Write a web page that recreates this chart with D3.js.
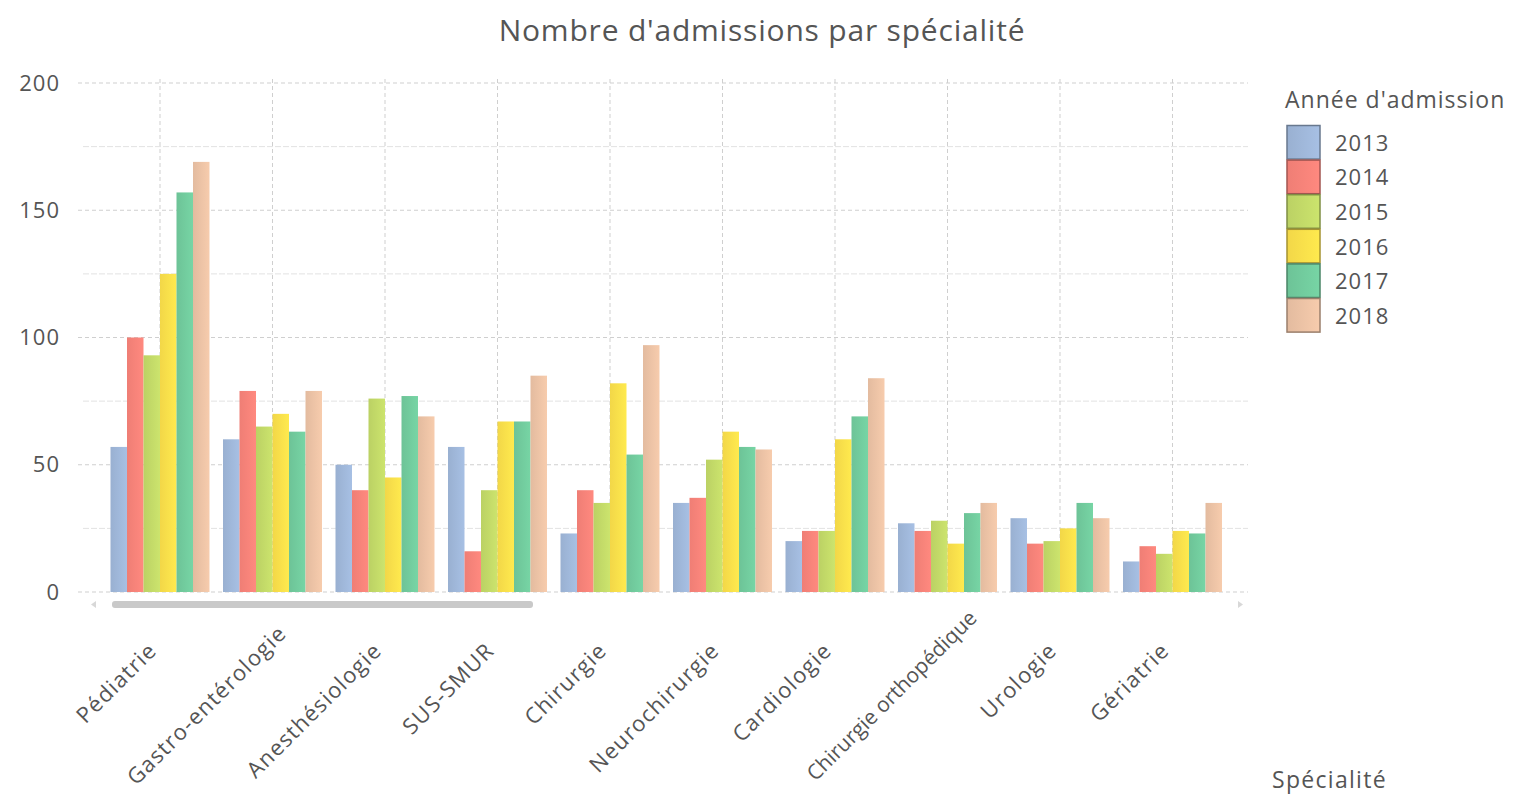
<!DOCTYPE html>
<html>
<head>
<meta charset="utf-8">
<script src="https://cdn.jsdelivr.net/npm/d3@7"></script>
<style>
  html, body { margin: 0; padding: 0; background: #fff; }
  svg { display: block; }
  text { font-family: "Open Sans", "DejaVu Sans", sans-serif; fill: #555; }
</style>
</head>
<body>
<svg id="chart" width="1516" height="795"></svg>
<script>
// ---- data ----
const categories = ["Pédiatrie", "Gastro-entérologie", "Anesthésiologie", "SUS-SMUR", "Chirurgie",
  "Neurochirurgie", "Cardiologie", "Chirurgie orthopédique", "Urologie", "Gériatrie"];
const years = ["2013", "2014", "2015", "2016", "2017", "2018"];
const v2013 = [57, 60, 50, 57, 23, 35, 20, 27, 29, 12];
const v2014 = [100, 79, 40, 16, 40, 37, 24, 24, 19, 18];
const v2015 = [93, 65, 76, 40, 35, 52, 24, 28, 20, 15];
const v2016 = [125, 70, 45, 67, 82, 63, 60, 19, 25, 24];
const v2017 = [157, 63, 77, 67, 54, 57, 69, 31, 35, 23];
const v2018 = [169, 79, 69, 85, 97, 56, 84, 35, 29, 35];
const seriesValues = [v2013, v2014, v2015, v2016, v2017, v2018];
const yTicks = [0, 50, 100, 150, 200];
const yMinor = [25, 75, 125, 175];
const colors = ["#a0b8da", "#f9837a", "#c3da68", "#fde04b", "#72cc9e", "#edc3a6"];

const title = "Nombre d'admissions par spécialité";
const legendTitle = "Année d'admission";
const xTitle = "Spécialité";

// ---- layout ----
const svg = d3.select("#chart");
const plotLeft = 78, plotRight = 1248, plotTop = 83, plotBottom = 592;

const x0 = d3.scaleBand().domain(categories).range([103.75, 1228.75]).paddingInner(0.12).paddingOuter(0.06);
const x1 = d3.scaleBand().domain(years).range([0, x0.bandwidth()]);
const y = d3.scaleLinear().domain([0, 200]).range([plotBottom, plotTop]);

// gradients
const defs = svg.append("defs");
colors.forEach((c, i) => {
  const g = defs.append("linearGradient").attr("id", "g" + i).attr("x1", "0%").attr("x2", "100%");
  g.append("stop").attr("offset", "0%").attr("stop-color", d3.color(c).darker(0.12));
  g.append("stop").attr("offset", "100%").attr("stop-color", d3.color(c).brighter(0.12));
});

// title
svg.append("text").attr("x", 762).attr("y", 41).attr("text-anchor", "middle")
  .style("font-size", "30px").style("letter-spacing", "0.8px").style("fill", "#555").text(title);

// grid
const grid = svg.append("g");
grid.selectAll("line.minor").data(yMinor).join("line")
  .attr("x1", plotLeft + 5).attr("x2", plotRight).attr("y1", d => y(d)).attr("y2", d => y(d))
  .attr("stroke", "#e2e2e2").attr("stroke-width", 1).attr("stroke-dasharray", "6 2");
grid.selectAll("line.major").data(yTicks).join("line")
  .attr("x1", plotLeft).attr("x2", plotRight).attr("y1", d => y(d)).attr("y2", d => y(d))
  .attr("stroke", "#cfcfcf").attr("stroke-width", 1).attr("stroke-dasharray", "4 3");
grid.selectAll("line.v").data(categories).join("line")
  .attr("x1", d => x0(d) + x0.bandwidth() / 2).attr("x2", d => x0(d) + x0.bandwidth() / 2)
  .attr("y1", plotTop - 4).attr("y2", plotBottom)
  .attr("stroke", "#cfcfcf").attr("stroke-width", 1).attr("stroke-dasharray", "4 3");

// y axis labels
const yAxis = d3.axisLeft(y).tickValues(yTicks).tickSize(0).tickPadding(0);
const yg = svg.append("g").attr("transform", "translate(60,0)").call(yAxis);
yg.select(".domain").remove();
yg.selectAll("text").style("font-size", "22px").style("letter-spacing", "1px")
  .style("fill", "#555").style("font-family", null);

// bars
const groups = svg.append("g").selectAll("g").data(categories).join("g")
  .attr("transform", d => `translate(${x0(d)},0)`);
groups.selectAll("rect").data((d, ci) => years.map((yr, si) => ({ yr, si, v: seriesValues[si][ci] })))
  .join("rect")
  .attr("x", d => x1(d.yr)).attr("width", x1.bandwidth())
  .attr("y", d => y(d.v)).attr("height", d => y(0) - y(d.v))
  .attr("fill", d => `url(#g${d.si})`);

// scrollbar
svg.append("rect").attr("x", 112).attr("y", 601).attr("width", 421).attr("height", 7)
  .attr("rx", 3).attr("fill", "#c9c9c9");
svg.append("path").attr("d", "M96,601 L91,604.5 L96,608 Z").attr("fill", "#d8d8d8");
svg.append("path").attr("d", "M1238,601 L1243,604.5 L1238,608 Z").attr("fill", "#d8d8d8");

// x labels
const xAxis = d3.axisBottom(x0).tickSize(0).tickPadding(0);
const xa = svg.append("g").call(xAxis);
xa.select(".domain").remove();
xa.selectAll(".tick").attr("transform", null);
xa.selectAll(".tick text").each(function(d) {
  const t = d3.select(this);
  t.style("font-size", "22px").style("letter-spacing", "1.2px").style("fill", "#555").style("font-family", null)
    .attr("text-anchor", "end").attr("dy", null).attr("y", null).attr("x", null);
  const baseY = 652, maxBottom = 782, minEndY = 614;
  let L = this.getComputedTextLength();
  let shift = Math.max(0, baseY + L * 0.7071 - maxBottom) * 0.8;
  if (baseY - shift < minEndY) {
    // too long to fit between the axis and the bottom: tighten the spacing
    t.style("letter-spacing", "0px").style("font-size", "21px");
    L = this.getComputedTextLength();
    shift = Math.min(baseY - minEndY, Math.max(0, baseY + L * 0.7071 - maxBottom));
  }
  const cx = x0(d) + x0.bandwidth() / 2 - 2;
  t.attr("transform", `translate(${cx + shift},${baseY - shift}) rotate(-45)`);
});

// x title
svg.append("text").attr("x", 1272).attr("y", 788).style("font-size", "23px").style("letter-spacing", "1.3px")
  .style("fill", "#555").text(xTitle);

// legend
const lg = svg.append("g").attr("transform", "translate(1285,0)");
lg.append("text").attr("x", 0).attr("y", 108).style("font-size", "23px").style("letter-spacing", "1px")
  .style("fill", "#555").text(legendTitle);
const sw = 34.6;
years.forEach((yr, i) => {
  lg.append("rect").attr("x", 2).attr("y", 125.5 + i * sw).attr("width", 33).attr("height", sw - 1)
    .attr("fill", `url(#g${i})`).attr("stroke", d3.color(colors[i]).darker(1.2)).attr("stroke-width", 1.5);
  lg.append("text").attr("x", 50).attr("y", 143 + i * sw).attr("dy", "0.35em")
    .style("font-size", "22px").style("letter-spacing", "1px").style("fill", "#555").text(yr);
});
</script>
</body>
</html>
